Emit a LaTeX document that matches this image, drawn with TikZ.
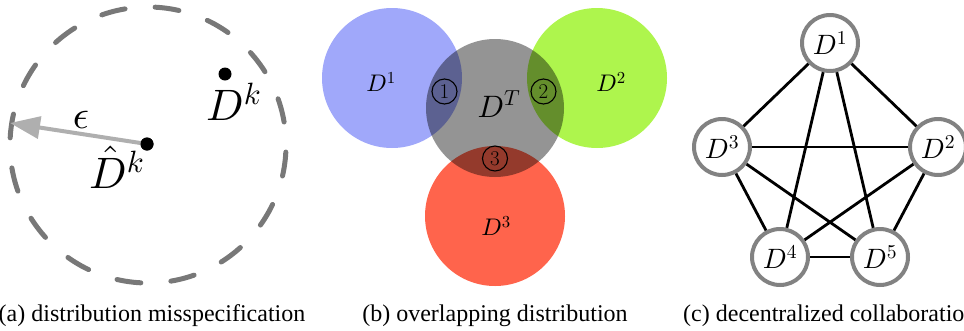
\documentclass[tikz,border=0pt]{standalone}
\usepackage[no-math]{fontspec}
\newfontfamily\capfont{Liberation Serif}
\DeclareFontShape{OML}{cmm}{m}{it}{<-6>cmmi5<6-7>cmmi6<7-8>cmmi7<8-9>cmmi8<9-10>cmmi9<10->cmmi10}{}
\DeclareFontShape{OT1}{cmr}{m}{n}{<-6>cmr5<6-7>cmr6<7-8>cmr7<8-9>cmr8<9-10>cmr9<10->cmr10}{}
\DeclareFontShape{OMS}{cmsy}{m}{n}{<-6>cmsy5<6-7>cmsy6<7-8>cmsy7<8-9>cmsy8<9-10>cmsy9<10->cmsy10}{}
\DeclareFontShape{OMX}{cmex}{m}{n}{<->cmex10}{}
\usetikzlibrary{arrows.meta}
\definecolor{dashgray}{RGB}{120,120,120}
\definecolor{arrowgray}{RGB}{175,175,175}
\definecolor{nodegray}{RGB}{130,130,130}
\definecolor{cblue}{RGB}{160,168,250}
\definecolor{cgreen}{RGB}{174,245,77}
\definecolor{cred}{RGB}{255,100,76}
\tikzset{
  dot/.style={circle, fill=black, inner sep=0pt, minimum size=13pt},
  mathlbl/.style={inner sep=0pt, font=\fontsize{#1}{#1}\selectfont},
  numcirc/.style={circle, draw=black, line width=1.1pt, inner sep=0pt, minimum size=25pt, font=\fontsize{21}{21}\selectfont},
  dnode/.style={circle, draw=nodegray, line width=4pt, fill=white, inner sep=0pt, minimum size=56pt, font=\fontsize{28}{28}\selectfont},
  edge/.style={draw=black, line width=2.8pt},
  caption/.style={inner sep=0pt, font=\capfont\fontsize{24}{28}\selectfont}
}
\begin{document}
\begin{tikzpicture}[x=1pt,y=-1pt]
\useasboundingbox (0,0) rectangle (964,330);

% ---------- (a) ----------
\coordinate (ca) at (148,145);
\draw[dashgray, line width=5pt, line cap=round, dash pattern=on 24pt off 30.19pt]
  (ca) ++(3:138) arc[start angle=3, end angle=363, radius=138];
\coordinate (tip) at (10,123);
\node[dot] (dhat) at (147,144) {};
\node[dot] (dk) at (225,74) {};
\draw[arrowgray, line width=4pt, -{Triangle[length=30pt,width=22pt]}] (dhat.center) -- (tip);
\node[dot] at (dhat) {};
\node[mathlbl=40] (eps) at (81,120) {$\epsilon$};
\node[mathlbl=44, anchor=base west] (lbldk) at (206,120) {$D^k$};
\node[mathlbl=44, anchor=base west] (lbldhat) at (89,188) {$\hat{D}^k$};

% ---------- (b) ----------
\fill[cblue] (392,78) circle (70);
\fill[cgreen] (597,78) circle (70);
\fill[cred] (495,216) circle (70);
\fill[black, fill opacity=0.42] (495,108) circle (69);
\node[mathlbl=24] (b1) at (381,82) {$D^1$};
\node[mathlbl=24] (b2) at (611,82) {$D^2$};
\node[mathlbl=24] (b3) at (496,226) {$D^3$};
\node[mathlbl=31] (bT) at (499,104) {$D^T$};
\node[numcirc] (n1) at (444.5,91.5) {1};
\node[numcirc] (n2) at (543.5,91.5) {2};
\node[numcirc] (n3) at (495,158.5) {3};

% ---------- (c) ----------
\node[dnode] (c1) at (830,43) {$D^1$};
\node[dnode] (c2) at (938,147) {$D^2$};
\node[dnode] (c3) at (722,147) {$D^3$};
\node[dnode] (c4) at (780,257) {$D^4$};
\node[dnode] (c5) at (880,257) {$D^5$};
\foreach \a/\b in {c1/c2,c1/c3,c1/c4,c1/c5,c2/c3,c2/c4,c2/c5,c3/c4,c3/c5,c4/c5}
  \draw[edge] (\a) -- (\b);

% ---------- captions ----------
\node[caption, anchor=base] (capa) at (152,321) {(a) distribution misspecification};
\node[caption, anchor=base] (capb) at (495,321) {(b) overlapping distribution};
\node[caption, anchor=base west] (capc) at (683,321) {(c) decentralized collaboration};
\end{tikzpicture}
\end{document}
